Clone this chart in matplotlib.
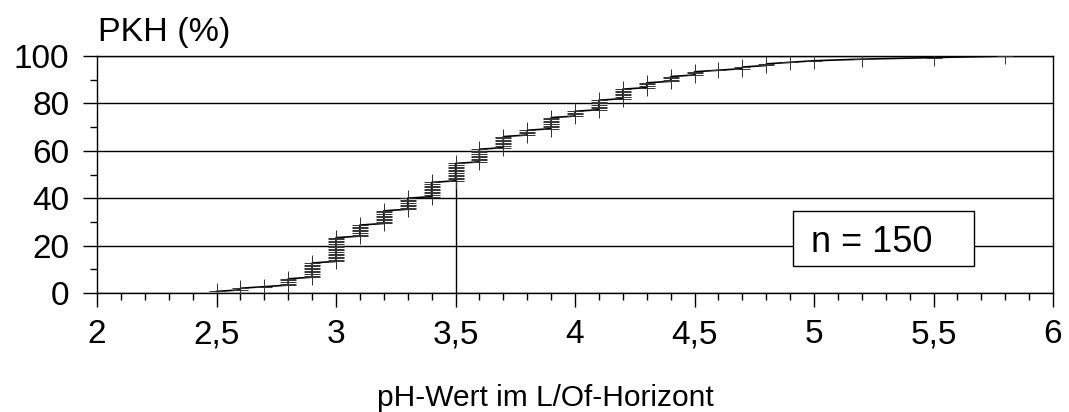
import numpy as np
import matplotlib
matplotlib.use('Agg')
import matplotlib.pyplot as plt
from matplotlib.patches import Rectangle
from matplotlib.ticker import MultipleLocator

# pH-Werte und Anzahl der Proben je Wert (n = 150)
ph_werte = [2.5, 2.6, 2.7, 2.8, 2.9, 3.0, 3.1, 3.2, 3.3, 3.4, 3.5, 3.6, 3.7, 3.8, 3.9,
            4.0, 4.1, 4.2, 4.3, 4.4, 4.5, 4.6, 4.7, 4.8, 4.9, 5.0, 5.2, 5.5, 5.8]
anzahl = [1, 2, 1, 5, 10, 16, 8, 9, 8, 10, 12, 9, 8, 4, 8,
          4, 7, 7, 4, 4, 3, 1, 2, 2, 1, 1, 1, 1, 1]
median = 3.5

x_ticks = [2, 2.5, 3, 3.5, 4, 4.5, 5, 5.5, 6]
x_labels = ['2', '2,5', '3', '3,5', '4', '4,5', '5', '5,5', '6']
y_ticks = [0, 20, 40, 60, 80, 100]

plt.rcParams['font.family'] = ['Liberation Sans', 'DejaVu Sans']

x = np.repeat(ph_werte, anzahl)
n = len(x)
pkh = np.arange(1, n + 1) / n * 100

fig = plt.figure(figsize=(10.69, 4.12), dpi=100)
ax = fig.add_axes([97 / 1069, 1 - 293 / 412, (1053 - 97) / 1069, (293 - 56) / 412])

ax.plot(x, pkh, color='black', lw=1.2, marker='+', ms=11, mew=0.7,
        mec='#333333', zorder=3)
ax.plot([median, median], [0, 50], color='black', lw=1.0, zorder=2)

ax.set_xlim(2, 6)
ax.set_ylim(0, 100)
ax.set_xticks(x_ticks)
ax.set_xticklabels(x_labels)
ax.set_yticks(y_ticks)
ax.xaxis.set_minor_locator(MultipleLocator(0.1))
ax.yaxis.set_minor_locator(MultipleLocator(10))
ax.tick_params(which='major', direction='out', length=10, width=1, labelsize=24)
ax.tick_params(which='minor', direction='out', length=5, width=1)
ax.tick_params(axis='y', which='major', pad=10)
ax.tick_params(axis='x', which='major', pad=9)
ax.grid(axis='y', which='major', color='black', lw=1.0)
for s in ax.spines.values():
    s.set_linewidth(1.0)

# Kasten mit Stichprobenumfang
ax.add_patch(Rectangle((4.912, 11.4), 0.758, 23.2, facecolor='white',
                       edgecolor='black', lw=1.0, zorder=4))
ax.text(5.241, 17.2, 'n = 150', fontsize=26, ha='center', va='baseline', zorder=5)

fig.text(98 / 1069, 1 - 41 / 412, 'PKH (%)', fontsize=24.5, ha='left', va='baseline')
fig.text(545 / 1069, 1 - 406 / 412, 'pH-Wert im L/Of-Horizont', fontsize=21.5,
         ha='center', va='baseline')

fig.savefig('out.png', dpi=100)
